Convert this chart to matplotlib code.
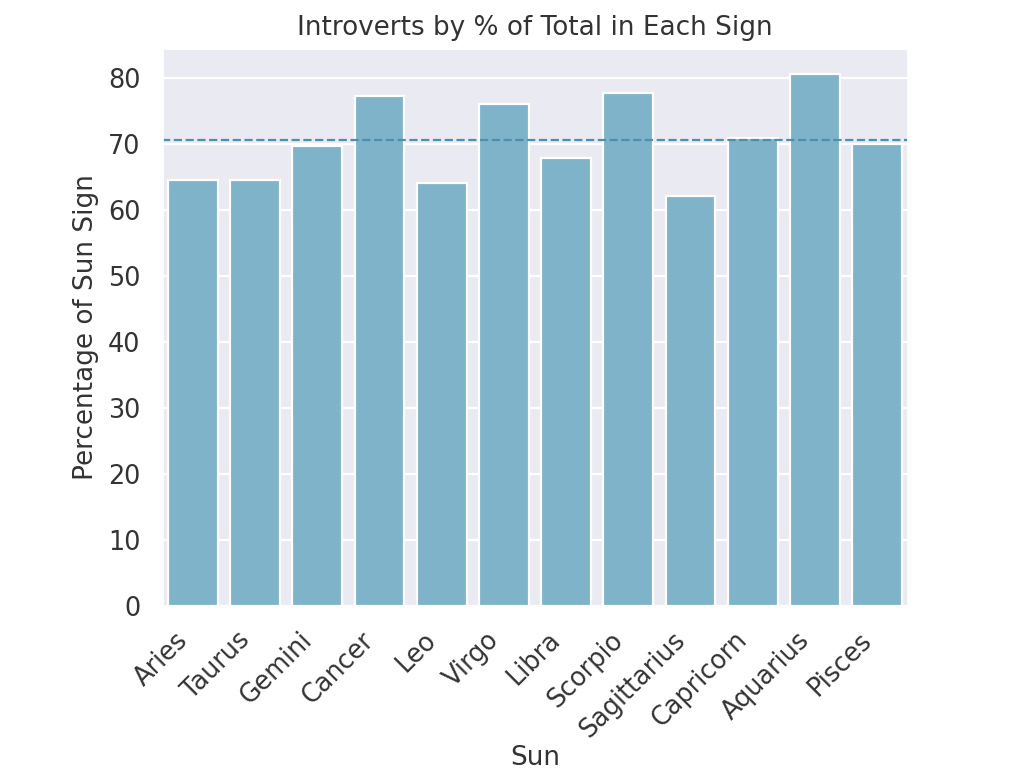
import numpy as np
import matplotlib
matplotlib.use("Agg")
import matplotlib.pyplot as plt
import seaborn as sns

signs = ["Aries", "Taurus", "Gemini", "Cancer", "Leo", "Virgo", "Libra",
         "Scorpio", "Sagittarius", "Capricorn", "Aquarius", "Pisces"]
introvert_pct = [64.6, 64.6, 69.7, 77.3, 64.2, 76.1, 67.9,
                 77.8, 62.2, 70.9, 80.6, 70.0]
overall_pct = 70.6

sns.set_theme(style="darkgrid", rc={"text.color": "#333333",
                                    "axes.labelcolor": "#333333",
                                    "xtick.color": "#333333",
                                    "ytick.color": "#333333"})
plt.rcParams['font.family'] = ['DejaVu Sans']

fig = plt.figure(figsize=(6.4, 4.825), dpi=160)
ax = fig.add_axes([0.158, 0.215, 0.729, 0.723])

x = np.arange(len(signs))
ax.bar(x, introvert_pct, width=0.8, color="#7fb3c9", edgecolor="white", linewidth=1.0)
ax.axhline(overall_pct, color="#4e8fb0", linestyle="--", linewidth=1.0)

ax.set_xlim(-0.5, len(signs) - 0.5)
ax.set_xticks(x)
ax.set_xticklabels(signs, rotation=45, ha="right", fontsize=11.5)
ax.set_yticks(range(0, 81, 10))
ax.tick_params(axis="y", labelsize=11.5)
ax.set_xlabel("Sun", fontsize=11.8, labelpad=1)
ax.set_ylabel("Percentage of Sun Sign", fontsize=11.8)
ax.set_title("Introverts by % of Total in Each Sign", fontsize=11.8)
ax.grid(axis="x", visible=False)

fig.savefig("out.png", dpi=160)
